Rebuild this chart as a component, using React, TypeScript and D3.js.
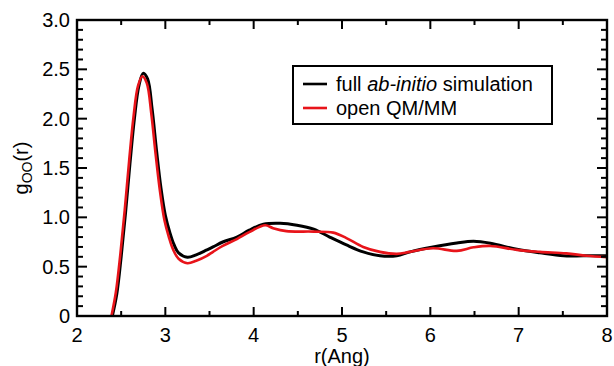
import React from "react";
import * as d3 from "d3";

const xTicks = [2, 3, 4, 5, 6, 7, 8];
const yTicks = [0, 0.5, 1.0, 1.5, 2.0, 2.5, 3.0];
const yTickLabels = ["0", "0.5", "1.0", "1.5", "2.0", "2.5", "3.0"];

const rBlack = [2.40, 2.45, 2.50, 2.55, 2.60, 2.65, 2.70, 2.75, 2.80, 2.85, 2.90, 2.95, 3.00, 3.05, 3.10, 3.15, 3.25, 3.35, 3.47, 3.54, 3.65, 3.81, 3.95, 4.11, 4.30, 4.49, 4.68, 4.86, 5.05, 5.24, 5.43, 5.62, 5.77, 6.03, 6.30, 6.49, 6.68, 6.98, 7.24, 7.51, 7.73, 8.00];
const gBlack = [0.0, 0.22, 0.60, 1.05, 1.55, 2.00, 2.33, 2.46, 2.40, 2.10, 1.68, 1.30, 1.02, 0.85, 0.72, 0.64, 0.595, 0.62, 0.67, 0.70, 0.75, 0.80, 0.87, 0.93, 0.94, 0.92, 0.88, 0.80, 0.72, 0.65, 0.61, 0.61, 0.65, 0.70, 0.74, 0.757, 0.737, 0.676, 0.64, 0.61, 0.61, 0.61];

const rRed = [2.39, 2.44, 2.49, 2.54, 2.59, 2.64, 2.69, 2.74, 2.79, 2.84, 2.89, 2.94, 2.99, 3.04, 3.09, 3.15, 3.25, 3.35, 3.47, 3.54, 3.65, 3.81, 3.95, 4.13, 4.22, 4.37, 4.68, 4.90, 5.05, 5.24, 5.43, 5.62, 5.77, 6.03, 6.30, 6.49, 6.68, 6.98, 7.24, 7.54, 7.77, 8.00];
const gRed = [0.0, 0.24, 0.62, 1.07, 1.57, 2.02, 2.33, 2.43, 2.36, 2.06, 1.64, 1.26, 0.97, 0.80, 0.67, 0.58, 0.535, 0.56, 0.61, 0.65, 0.71, 0.78, 0.85, 0.92, 0.89, 0.86, 0.855, 0.845, 0.79, 0.70, 0.65, 0.63, 0.65, 0.686, 0.66, 0.696, 0.71, 0.67, 0.65, 0.635, 0.61, 0.595];

const seriesNames = ["full", "open QM/MM"];

const W = 614, H = 366;
const L = 77, R = 607, T = 20, B = 316;
const font = "'Liberation Sans', Arial, Helvetica, sans-serif";

export default function App() {
  const x = d3.scaleLinear().domain([2, 8]).range([L, R]);
  const y = d3.scaleLinear().domain([0, 3]).range([B, T]);
  const line = d3
    .line<[number, number]>()
    .x((d) => x(d[0]))
    .y((d) => y(d[1]))
    .curve(d3.curveCatmullRom.alpha(0.5));
  const black: [number, number][] = rBlack.map((r, i) => [r, gBlack[i]]);
  const red: [number, number][] = rRed.map((r, i) => [r, gRed[i]]);

  const xMinor = d3.range(2.5, 8, 1);
  const yMinor = d3.range(0, 3.001, 0.1).filter((v) => Math.abs(v * 2 - Math.round(v * 2)) > 1e-6);

  return (
    <svg width={W} height={H} style={{ position: "absolute", left: 0, top: 0, background: "#fff" }}>
      <defs>
        <clipPath id="plot">
          <rect x={L} y={T} width={R - L} height={B - T} />
        </clipPath>
      </defs>
      <g clipPath="url(#plot)" fill="none" strokeLinejoin="round" strokeLinecap="round">
        <path d={line(black) || ""} stroke="#000" strokeWidth={3} />
        <path d={line(red) || ""} stroke="#e8141a" strokeWidth={2.6} />
      </g>
      {/* ticks */}
      <g stroke="#000" strokeWidth={2}>
        {xTicks.map((t) => (
          <g key={"xt" + t}>
            <line x1={x(t)} x2={x(t)} y1={B} y2={B - 9} />
            <line x1={x(t)} x2={x(t)} y1={T} y2={T + 9} />
          </g>
        ))}
        {xMinor.map((t) => (
          <g key={"xm" + t}>
            <line x1={x(t)} x2={x(t)} y1={B} y2={B - 5} />
            <line x1={x(t)} x2={x(t)} y1={T} y2={T + 5} />
          </g>
        ))}
        {yTicks.map((t) => (
          <g key={"yt" + t}>
            <line x1={L} x2={L + 10} y1={y(t)} y2={y(t)} />
            <line x1={R} x2={R - 10} y1={y(t)} y2={y(t)} />
          </g>
        ))}
        {yMinor.map((t) => (
          <g key={"ym" + t}>
            <line x1={L} x2={L + 6} y1={y(t)} y2={y(t)} />
            <line x1={R} x2={R - 6} y1={y(t)} y2={y(t)} />
          </g>
        ))}
      </g>
      <rect x={L} y={T} width={R - L} height={B - T} fill="none" stroke="#000" strokeWidth={2.4} />
      {/* tick labels */}
      <g fontFamily={font} fontSize={20} fill="#000">
        {xTicks.map((t) => (
          <text key={"xl" + t} x={x(t)} y={342} textAnchor="middle">
            {t}
          </text>
        ))}
        {yTicks.map((t, i) => (
          <text key={"yl" + t} x={70} y={y(t) + 7} textAnchor="end">
            {yTickLabels[i]}
          </text>
        ))}
        <text x={(L + R) / 2} y={363} textAnchor="middle">
          r(Ang)
        </text>
        <text transform={`translate(28, ${(T + B) / 2}) rotate(-90)`} textAnchor="middle">
          g<tspan fontSize={14} dy={4}>OO</tspan>
          <tspan dy={-4}>(r)</tspan>
        </text>
      </g>
      {/* legend */}
      <g fontFamily={font} fontSize={20} fill="#000">
        <rect x={293} y={66} width={259} height={58} fill="#fff" stroke="#000" strokeWidth={2} />
        <line x1={303} x2={327} y1={84} y2={84} stroke="#000" strokeWidth={2.6} />
        <line x1={303} x2={327} y1={108} y2={108} stroke="#e8141a" strokeWidth={2.6} />
        <text x={336} y={91}>
          {seriesNames[0]} <tspan fontStyle="italic">ab-initio</tspan> simulation
        </text>
        <text x={336} y={115}>
          {seriesNames[1]}
        </text>
      </g>
    </svg>
  );
}
